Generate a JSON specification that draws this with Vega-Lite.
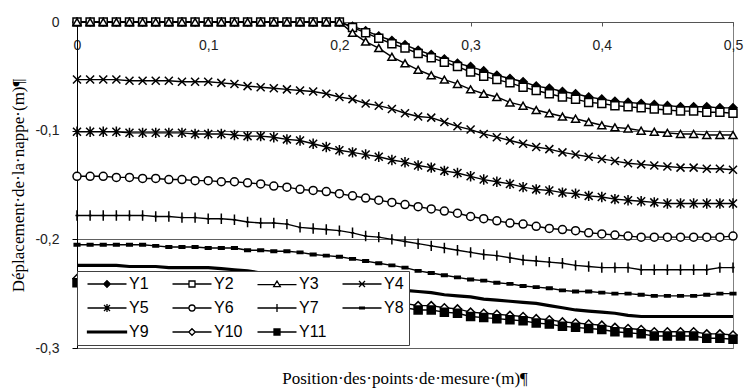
{
"$schema": "https://vega.github.io/schema/vega-lite/v6.json",
"width": 656, "height": 326,
"autosize": "none",
"padding": {"left": 77, "top": 22, "right": 13, "bottom": 43},
"background": "white",
"config": {"font": "Liberation Sans", "view": {"stroke": "#808080", "strokeWidth": 1}},
"title": {"text": "Position·des·points·de·mesure·(m)¶", "orient": "bottom", "anchor": "middle", "frame": "group", "font": "Liberation Serif", "fontSize": 17, "fontWeight": "normal", "color": "black", "offset": 16},
"data": {"values": [
{"x":0,"Y1":0,"Y2":0,"Y3":0,"Y4":-0.053,"Y5":-0.101,"Y6":-0.142,"Y7":-0.178,"Y8":-0.205,"Y9":-0.224,"Y10":-0.236,"Y11":-0.240},
{"x":0.01,"Y1":0,"Y2":0,"Y3":0,"Y4":-0.053,"Y5":-0.101,"Y6":-0.142,"Y7":-0.178,"Y8":-0.205,"Y9":-0.224,"Y10":-0.236,"Y11":-0.240},
{"x":0.02,"Y1":0,"Y2":0,"Y3":0,"Y4":-0.053,"Y5":-0.101,"Y6":-0.142,"Y7":-0.178,"Y8":-0.205,"Y9":-0.224,"Y10":-0.236,"Y11":-0.240},
{"x":0.03,"Y1":0,"Y2":0,"Y3":0,"Y4":-0.053,"Y5":-0.101,"Y6":-0.143,"Y7":-0.178,"Y8":-0.205,"Y9":-0.224,"Y10":-0.236,"Y11":-0.240},
{"x":0.04,"Y1":0,"Y2":0,"Y3":0,"Y4":-0.054,"Y5":-0.102,"Y6":-0.143,"Y7":-0.178,"Y8":-0.205,"Y9":-0.225,"Y10":-0.237,"Y11":-0.241},
{"x":0.05,"Y1":0,"Y2":0,"Y3":0,"Y4":-0.054,"Y5":-0.102,"Y6":-0.144,"Y7":-0.178,"Y8":-0.205,"Y9":-0.225,"Y10":-0.237,"Y11":-0.241},
{"x":0.06,"Y1":0,"Y2":0,"Y3":0,"Y4":-0.054,"Y5":-0.102,"Y6":-0.144,"Y7":-0.179,"Y8":-0.206,"Y9":-0.225,"Y10":-0.237,"Y11":-0.241},
{"x":0.07,"Y1":0,"Y2":0,"Y3":0,"Y4":-0.054,"Y5":-0.102,"Y6":-0.145,"Y7":-0.179,"Y8":-0.207,"Y9":-0.226,"Y10":-0.238,"Y11":-0.242},
{"x":0.08,"Y1":0,"Y2":0,"Y3":0,"Y4":-0.055,"Y5":-0.102,"Y6":-0.145,"Y7":-0.180,"Y8":-0.207,"Y9":-0.226,"Y10":-0.238,"Y11":-0.242},
{"x":0.09,"Y1":0,"Y2":0,"Y3":0,"Y4":-0.055,"Y5":-0.103,"Y6":-0.146,"Y7":-0.180,"Y8":-0.207,"Y9":-0.226,"Y10":-0.239,"Y11":-0.243},
{"x":0.10,"Y1":0,"Y2":0,"Y3":0,"Y4":-0.055,"Y5":-0.103,"Y6":-0.146,"Y7":-0.181,"Y8":-0.208,"Y9":-0.226,"Y10":-0.239,"Y11":-0.243},
{"x":0.11,"Y1":0,"Y2":0,"Y3":0,"Y4":-0.056,"Y5":-0.103,"Y6":-0.147,"Y7":-0.181,"Y8":-0.208,"Y9":-0.227,"Y10":-0.240,"Y11":-0.244},
{"x":0.12,"Y1":0,"Y2":0,"Y3":0,"Y4":-0.057,"Y5":-0.104,"Y6":-0.147,"Y7":-0.182,"Y8":-0.208,"Y9":-0.228,"Y10":-0.241,"Y11":-0.245},
{"x":0.13,"Y1":0,"Y2":0,"Y3":0,"Y4":-0.059,"Y5":-0.105,"Y6":-0.148,"Y7":-0.184,"Y8":-0.210,"Y9":-0.229,"Y10":-0.242,"Y11":-0.246},
{"x":0.14,"Y1":0,"Y2":0,"Y3":0,"Y4":-0.060,"Y5":-0.105,"Y6":-0.149,"Y7":-0.185,"Y8":-0.210,"Y9":-0.231,"Y10":-0.243,"Y11":-0.247},
{"x":0.15,"Y1":0,"Y2":0,"Y3":0,"Y4":-0.061,"Y5":-0.106,"Y6":-0.151,"Y7":-0.185,"Y8":-0.211,"Y9":-0.232,"Y10":-0.244,"Y11":-0.248},
{"x":0.16,"Y1":0,"Y2":0,"Y3":0,"Y4":-0.062,"Y5":-0.108,"Y6":-0.152,"Y7":-0.186,"Y8":-0.211,"Y9":-0.233,"Y10":-0.246,"Y11":-0.250},
{"x":0.17,"Y1":0,"Y2":0,"Y3":0,"Y4":-0.063,"Y5":-0.109,"Y6":-0.154,"Y7":-0.189,"Y8":-0.212,"Y9":-0.235,"Y10":-0.247,"Y11":-0.251},
{"x":0.18,"Y1":0,"Y2":0,"Y3":0,"Y4":-0.064,"Y5":-0.112,"Y6":-0.155,"Y7":-0.190,"Y8":-0.214,"Y9":-0.236,"Y10":-0.248,"Y11":-0.252},
{"x":0.19,"Y1":0,"Y2":0,"Y3":0,"Y4":-0.066,"Y5":-0.115,"Y6":-0.156,"Y7":-0.191,"Y8":-0.215,"Y9":-0.238,"Y10":-0.250,"Y11":-0.254},
{"x":0.20,"Y1":0,"Y2":0,"Y3":0,"Y4":-0.069,"Y5":-0.118,"Y6":-0.158,"Y7":-0.192,"Y8":-0.216,"Y9":-0.239,"Y10":-0.251,"Y11":-0.255},
{"x":0.21,"Y1":-0.004,"Y2":-0.005,"Y3":-0.010,"Y4":-0.071,"Y5":-0.120,"Y6":-0.160,"Y7":-0.194,"Y8":-0.218,"Y9":-0.241,"Y10":-0.253,"Y11":-0.257},
{"x":0.22,"Y1":-0.008,"Y2":-0.010,"Y3":-0.018,"Y4":-0.075,"Y5":-0.122,"Y6":-0.162,"Y7":-0.197,"Y8":-0.220,"Y9":-0.242,"Y10":-0.254,"Y11":-0.258},
{"x":0.23,"Y1":-0.013,"Y2":-0.015,"Y3":-0.024,"Y4":-0.077,"Y5":-0.124,"Y6":-0.164,"Y7":-0.198,"Y8":-0.222,"Y9":-0.244,"Y10":-0.256,"Y11":-0.260},
{"x":0.24,"Y1":-0.017,"Y2":-0.020,"Y3":-0.032,"Y4":-0.080,"Y5":-0.127,"Y6":-0.166,"Y7":-0.200,"Y8":-0.224,"Y9":-0.245,"Y10":-0.258,"Y11":-0.262},
{"x":0.25,"Y1":-0.021,"Y2":-0.024,"Y3":-0.038,"Y4":-0.084,"Y5":-0.129,"Y6":-0.168,"Y7":-0.202,"Y8":-0.226,"Y9":-0.247,"Y10":-0.259,"Y11":-0.263},
{"x":0.26,"Y1":-0.026,"Y2":-0.029,"Y3":-0.044,"Y4":-0.087,"Y5":-0.132,"Y6":-0.170,"Y7":-0.204,"Y8":-0.229,"Y9":-0.248,"Y10":-0.261,"Y11":-0.265},
{"x":0.27,"Y1":-0.030,"Y2":-0.033,"Y3":-0.049,"Y4":-0.088,"Y5":-0.134,"Y6":-0.172,"Y7":-0.206,"Y8":-0.231,"Y9":-0.249,"Y10":-0.261,"Y11":-0.265},
{"x":0.28,"Y1":-0.034,"Y2":-0.037,"Y3":-0.053,"Y4":-0.092,"Y5":-0.137,"Y6":-0.174,"Y7":-0.208,"Y8":-0.233,"Y9":-0.251,"Y10":-0.263,"Y11":-0.267},
{"x":0.29,"Y1":-0.038,"Y2":-0.041,"Y3":-0.057,"Y4":-0.096,"Y5":-0.139,"Y6":-0.176,"Y7":-0.210,"Y8":-0.235,"Y9":-0.252,"Y10":-0.264,"Y11":-0.268},
{"x":0.30,"Y1":-0.041,"Y2":-0.046,"Y3":-0.062,"Y4":-0.099,"Y5":-0.142,"Y6":-0.179,"Y7":-0.212,"Y8":-0.237,"Y9":-0.253,"Y10":-0.267,"Y11":-0.271},
{"x":0.31,"Y1":-0.045,"Y2":-0.050,"Y3":-0.066,"Y4":-0.103,"Y5":-0.145,"Y6":-0.181,"Y7":-0.214,"Y8":-0.238,"Y9":-0.255,"Y10":-0.268,"Y11":-0.272},
{"x":0.32,"Y1":-0.049,"Y2":-0.053,"Y3":-0.069,"Y4":-0.106,"Y5":-0.147,"Y6":-0.183,"Y7":-0.215,"Y8":-0.240,"Y9":-0.256,"Y10":-0.269,"Y11":-0.273},
{"x":0.33,"Y1":-0.052,"Y2":-0.056,"Y3":-0.074,"Y4":-0.109,"Y5":-0.149,"Y6":-0.185,"Y7":-0.217,"Y8":-0.241,"Y9":-0.257,"Y10":-0.270,"Y11":-0.274},
{"x":0.34,"Y1":-0.055,"Y2":-0.060,"Y3":-0.077,"Y4":-0.112,"Y5":-0.152,"Y6":-0.186,"Y7":-0.219,"Y8":-0.243,"Y9":-0.258,"Y10":-0.271,"Y11":-0.275},
{"x":0.35,"Y1":-0.059,"Y2":-0.063,"Y3":-0.081,"Y4":-0.115,"Y5":-0.154,"Y6":-0.188,"Y7":-0.220,"Y8":-0.244,"Y9":-0.259,"Y10":-0.273,"Y11":-0.277},
{"x":0.36,"Y1":-0.061,"Y2":-0.066,"Y3":-0.084,"Y4":-0.117,"Y5":-0.155,"Y6":-0.190,"Y7":-0.221,"Y8":-0.245,"Y9":-0.261,"Y10":-0.274,"Y11":-0.278},
{"x":0.37,"Y1":-0.064,"Y2":-0.069,"Y3":-0.087,"Y4":-0.120,"Y5":-0.157,"Y6":-0.191,"Y7":-0.222,"Y8":-0.247,"Y9":-0.263,"Y10":-0.276,"Y11":-0.280},
{"x":0.38,"Y1":-0.066,"Y2":-0.071,"Y3":-0.089,"Y4":-0.122,"Y5":-0.158,"Y6":-0.192,"Y7":-0.224,"Y8":-0.248,"Y9":-0.265,"Y10":-0.277,"Y11":-0.281},
{"x":0.39,"Y1":-0.069,"Y2":-0.074,"Y3":-0.092,"Y4":-0.124,"Y5":-0.160,"Y6":-0.194,"Y7":-0.225,"Y8":-0.248,"Y9":-0.266,"Y10":-0.278,"Y11":-0.282},
{"x":0.40,"Y1":-0.071,"Y2":-0.075,"Y3":-0.095,"Y4":-0.126,"Y5":-0.161,"Y6":-0.195,"Y7":-0.226,"Y8":-0.249,"Y9":-0.267,"Y10":-0.279,"Y11":-0.283},
{"x":0.41,"Y1":-0.073,"Y2":-0.077,"Y3":-0.097,"Y4":-0.128,"Y5":-0.163,"Y6":-0.196,"Y7":-0.226,"Y8":-0.250,"Y9":-0.268,"Y10":-0.281,"Y11":-0.285},
{"x":0.42,"Y1":-0.074,"Y2":-0.078,"Y3":-0.098,"Y4":-0.130,"Y5":-0.164,"Y6":-0.197,"Y7":-0.226,"Y8":-0.250,"Y9":-0.270,"Y10":-0.282,"Y11":-0.286},
{"x":0.43,"Y1":-0.075,"Y2":-0.079,"Y3":-0.100,"Y4":-0.131,"Y5":-0.165,"Y6":-0.198,"Y7":-0.228,"Y8":-0.251,"Y9":-0.271,"Y10":-0.283,"Y11":-0.287},
{"x":0.44,"Y1":-0.076,"Y2":-0.080,"Y3":-0.101,"Y4":-0.132,"Y5":-0.166,"Y6":-0.198,"Y7":-0.228,"Y8":-0.252,"Y9":-0.271,"Y10":-0.285,"Y11":-0.289},
{"x":0.45,"Y1":-0.077,"Y2":-0.081,"Y3":-0.102,"Y4":-0.133,"Y5":-0.167,"Y6":-0.198,"Y7":-0.228,"Y8":-0.252,"Y9":-0.271,"Y10":-0.285,"Y11":-0.289},
{"x":0.46,"Y1":-0.078,"Y2":-0.082,"Y3":-0.103,"Y4":-0.134,"Y5":-0.167,"Y6":-0.198,"Y7":-0.228,"Y8":-0.252,"Y9":-0.271,"Y10":-0.285,"Y11":-0.289},
{"x":0.47,"Y1":-0.078,"Y2":-0.082,"Y3":-0.103,"Y4":-0.134,"Y5":-0.167,"Y6":-0.198,"Y7":-0.228,"Y8":-0.252,"Y9":-0.271,"Y10":-0.285,"Y11":-0.289},
{"x":0.48,"Y1":-0.078,"Y2":-0.083,"Y3":-0.104,"Y4":-0.135,"Y5":-0.167,"Y6":-0.198,"Y7":-0.228,"Y8":-0.251,"Y9":-0.271,"Y10":-0.287,"Y11":-0.291},
{"x":0.49,"Y1":-0.079,"Y2":-0.083,"Y3":-0.104,"Y4":-0.135,"Y5":-0.167,"Y6":-0.198,"Y7":-0.226,"Y8":-0.250,"Y9":-0.271,"Y10":-0.287,"Y11":-0.291},
{"x":0.50,"Y1":-0.079,"Y2":-0.084,"Y3":-0.104,"Y4":-0.136,"Y5":-0.167,"Y6":-0.197,"Y7":-0.226,"Y8":-0.250,"Y9":-0.271,"Y10":-0.288,"Y11":-0.292}
]},
"transform": [{"fold": ["Y1","Y2","Y3","Y4","Y5","Y6","Y7","Y8","Y9","Y10","Y11"], "as": ["series","y"]}],
"encoding": {
  "x": {"field": "x", "type": "quantitative", "scale": {"domain": [0, 0.5], "nice": false, "zero": false},
        "axis": {"orient": "bottom", "offset": -326, "title": null, "values": [0,0.1,0.2,0.3,0.4,0.5], "labelExpr": "replace(toString(datum.value), '.', ',')", "labelFont": "Liberation Sans", "labelFontSize": 14, "labelColor": "#222", "labelPadding": 12, "labelFlush": false, "labelOverlap": false, "tickSize": 4, "tickColor": "#555", "domainColor": "#555", "grid": false}},
  "y": {"field": "y", "type": "quantitative", "scale": {"domain": [-0.3, 0], "nice": false, "zero": false},
        "axis": {"title": "Déplacement·de·la·nappe·(m)¶", "titleFont": "Liberation Serif", "titleFontSize": 17, "titleFontWeight": "normal", "titleColor": "black", "titleX": -50, "values": [0,-0.1,-0.2,-0.3], "labelExpr": "replace(toString(datum.value), '.', ',')", "labelFont": "Liberation Sans", "labelFontSize": 14, "labelColor": "#222", "labelPadding": 13, "labelOverlap": false, "tickSize": 5, "tickColor": "black", "domainColor": "black", "grid": true, "gridColor": "#606060", "gridOpacity": 1}}
},
"layer": [
  {"transform": [{"filter": {"field": "series", "oneOf": ["Y9"]}}],
   "mark": {"type": "line", "color": "black", "strokeWidth": 3.2},
   "encoding": {"detail": {"field": "series", "type": "nominal"}}},
  {"transform": [{"filter": {"not": {"field": "series", "oneOf": ["Y9"]}}}],
   "mark": {"type": "line", "color": "black", "strokeWidth": 1.4},
   "encoding": {"detail": {"field": "series", "type": "nominal"}}},
  {"transform": [{"filter": {"not": {"field": "series", "oneOf": ["Y9"]}}}],
   "mark": {"type": "point", "opacity": 1, "stroke": "black", "strokeWidth": 1.5, "size": 64},
   "encoding": {
     "shape": {"field": "series", "type": "nominal", "legend": null, "scale": {"domain": ["Y1","Y2","Y3","Y4","Y5","Y6","Y7","Y8","Y10","Y11"], "range": ["diamond","square","triangle-up","M-1,-1L1,1M-1,1L1,-1","M-1,-1L1,1M-1,1L1,-1M0,-1.3V1.3","circle","M0,-1.3V1.3M-0.4,0H0.4","M-0.7,-0.3H0.7V0.3H-0.7Z","diamond","square"]}},
     "fill": {"field": "series", "type": "nominal", "legend": null, "scale": {"domain": ["Y1","Y2","Y3","Y4","Y5","Y6","Y7","Y8","Y10","Y11"], "range": ["black","white","white","white","white","white","white","black","white","black"]}}
   }},
  {"transform": [{"filter": {"field": "x", "lt": -1}}],
   "mark": {"type": "point", "opacity": 1, "strokeWidth": 1.3},
   "encoding": {
     "shape": {"field": "series", "type": "nominal",
       "scale": {"domain": ["Y1","Y2","Y3","Y4","Y5","Y6","Y7","Y8","Y9","Y10","Y11"],
                 "range": ["M-6.5,0H6.5M-1.1,0L0,-1.1L1.1,0L0,1.1Z","M-6.5,0H-1M1,0H6.5M-1,-1H1V1H-1Z","M-6.5,0.2H-0.6M0.6,0.2H6.5M0,-1L1.1,0.9H-1.1Z","M-6.5,0H6.5M-1,-1L1,1M-1,1L1,-1","M-6.5,0H6.5M-1,-1L1,1M-1,1L1,-1M0,-1.3V1.3","M-6.5,0H-1M1,0H6.5M1,0A1,1,0,1,1,-1,0A1,1,0,1,1,1,0Z","M-6.5,0H6.5M0,-1.3V1.3","M-6.5,0H6.5M-0.8,-0.25H0.8V0.25H-0.8Z","M-6.5,-0.3H6.5V0.3H-6.5Z","M-6.5,0H-1.1M1.1,0H6.5M-1.1,0L0,-1.1L1.1,0L0,1.1Z","M-6.5,0H6.5M-1,-1H1V1H-1Z"]},
       "legend": {"orient": "none", "legendX": 0, "legendY": 249, "direction": "horizontal", "columns": 4, "title": null, "fillColor": "white", "strokeColor": "#404040", "padding": 5, "symbolSize": 36, "symbolStrokeWidth": 1.3, "symbolOffset": 17, "labelOffset": 14, "labelFont": "Liberation Sans", "labelFontSize": 16, "labelColor": "black", "rowPadding": 8, "columnPadding": 9, "gridAlign": "all"}},
     "fill": {"field": "series", "type": "nominal",
       "scale": {"domain": ["Y1","Y2","Y3","Y4","Y5","Y6","Y7","Y8","Y9","Y10","Y11"], "range": ["black","white","white","white","white","white","white","black","black","white","black"]},
       "legend": {"orient": "none", "legendX": 0, "legendY": 249, "direction": "horizontal", "columns": 4, "title": null, "fillColor": "white", "strokeColor": "#404040", "padding": 5, "symbolSize": 36, "symbolStrokeWidth": 1.3, "symbolOffset": 17, "labelOffset": 14, "labelFont": "Liberation Sans", "labelFontSize": 16, "labelColor": "black", "rowPadding": 8, "columnPadding": 9, "gridAlign": "all"}},
     "stroke": {"field": "series", "type": "nominal",
       "scale": {"domain": ["Y1","Y2","Y3","Y4","Y5","Y6","Y7","Y8","Y9","Y10","Y11"], "range": ["black","black","black","black","black","black","black","black","black","black","black"]},
       "legend": {"orient": "none", "legendX": 0, "legendY": 249, "direction": "horizontal", "columns": 4, "title": null, "fillColor": "white", "strokeColor": "#404040", "padding": 5, "symbolSize": 36, "symbolStrokeWidth": 1.3, "symbolOffset": 17, "labelOffset": 14, "labelFont": "Liberation Sans", "labelFontSize": 16, "labelColor": "black", "rowPadding": 8, "columnPadding": 9, "gridAlign": "all"}}
   }}
],
"resolve": {"scale": {"shape": "independent", "fill": "independent", "stroke": "independent"}}
}
